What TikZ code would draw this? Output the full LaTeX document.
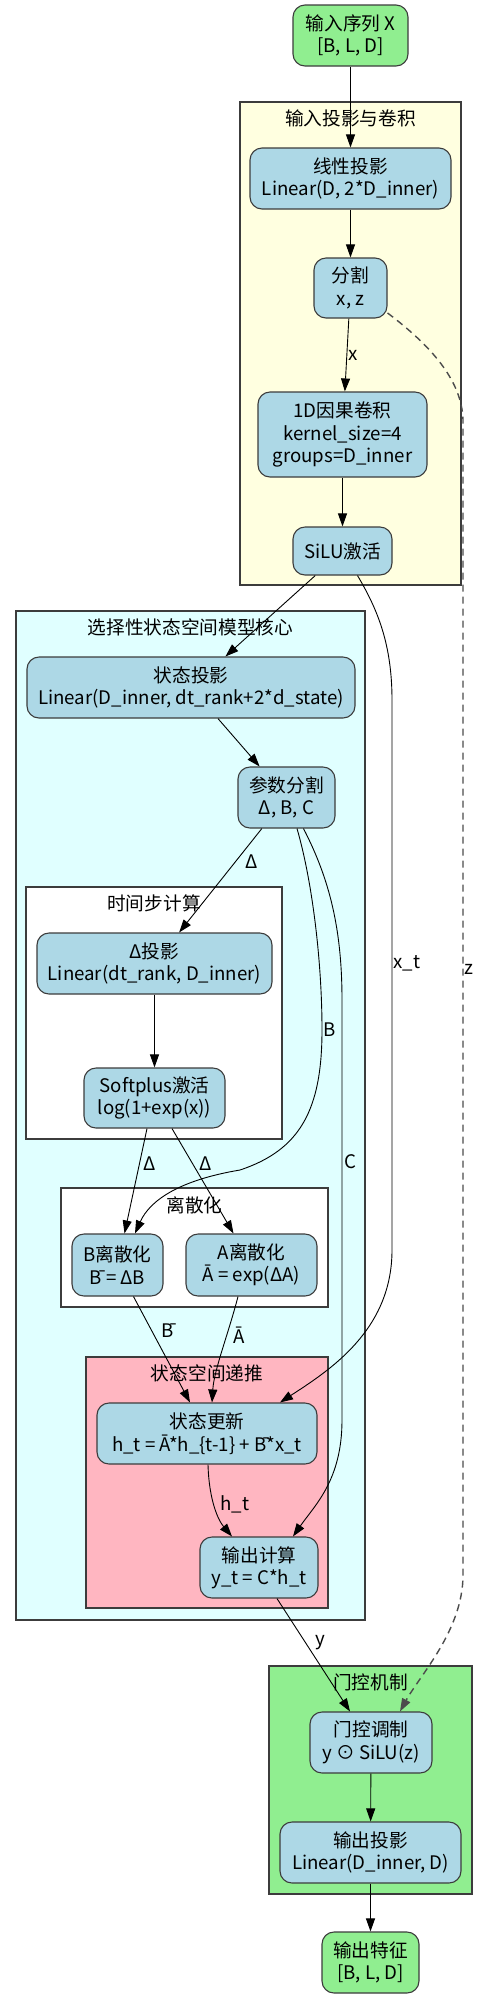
\documentclass[tikz,border=0pt]{standalone}
\usepackage{fontspec}
\setmainfont{Noto Sans CJK SC}
\usetikzlibrary{arrows.meta}
\definecolor{boxblue}{HTML}{ADD8E6}
\definecolor{iogreen}{HTML}{90EE90}
\definecolor{convyellow}{HTML}{FFFFE0}
\definecolor{ssmcyan}{HTML}{E0FFFF}
\definecolor{scanpink}{HTML}{FFB6C1}
\definecolor{rim}{HTML}{3C3C3C}

\begin{document}
\begin{tikzpicture}[x=1pt, y=-1pt,
  every node/.style={font=\fontsize{18.67}{22.4}\selectfont},
  box/.style={draw=rim, line width=1.1pt, fill=boxblue, rounded corners=12pt, align=center, inner sep=0pt},
  io/.style={box, fill=iogreen},
  cluster/.style={draw=rim, line width=1.4pt},
  edge/.style={-{Triangle[length=13pt,width=9pt]}, line width=0.9pt},
  zpath/.style={edge, draw=black!70, line width=1.4pt, dash pattern=on 7pt off 5pt},
  lbl/.style={anchor=west, inner sep=0pt}]
\useasboundingbox (0,0) rectangle (488,1998);

\draw [cluster, fill=convyellow] (240,102) rectangle (461,585);
\draw [cluster, fill=ssmcyan] (16,611) rectangle (365,1620);
\draw [cluster, fill=white] (26,887) rectangle (282,1139);
\draw [cluster, fill=white] (61,1188) rectangle (328,1307);
\draw [cluster, fill=scanpink] (86,1357) rectangle (328,1608);
\draw [cluster, fill=iogreen] (269,1666) rectangle (472,1894);
\node (convtitle) at (350.5,118) {输入投影与卷积};
\node (ssmtitle) at (190.5,627) {选择性状态空间模型核心};
\node (dttitle) at (154,903) {时间步计算};
\node (disctitle) at (194.5,1205) {离散化};
\node (scantitle) at (207,1373) {状态空间递推};
\node (gatetitle) at (370.5,1682) {门控机制};

\node [io, minimum width=115, minimum height=61] (inp) at (350.5,35.5) {输入序列 X\\{}[B, L, D]};
\node [box, minimum width=201, minimum height=61] (lin) at (350.5,178.5) {线性投影\\Linear(D, 2*D\_inner)};
\node [box, minimum width=73, minimum height=60] (split) at (350.5,288) {分割\\x, z};
\node [box, minimum width=169, minimum height=85] (conv) at (342.5,434.5) {1D因果卷积\\kernel\_size=4\\groups=D\_inner};
\node [box, minimum width=99, minimum height=48] (silu) at (342.5,551) {SiLU激活};
\node [box, minimum width=328, minimum height=61] (sproj) at (191,687.5) {状态投影\\Linear(D\_inner, dt\_rank+2*d\_state)};
\node [box, minimum width=97, minimum height=61] (psplit) at (286.5,797.5) {参数分割\\Δ, B, C};
\node [box, minimum width=235, minimum height=61] (dproj) at (154.5,963.5) {Δ投影\\Linear(dt\_rank, D\_inner)};
\node [box, minimum width=141, minimum height=60] (soft) at (154.5,1098) {Softplus激活\\log(1+exp(x))};
\node [box, minimum width=91, minimum height=62] (bdis) at (117.5,1265) {B离散化\\B̄ = ΔB};
\node [box, minimum width=131, minimum height=62] (adis) at (251.5,1265) {A离散化\\Ā = exp(ΔA)};
\node [box, minimum width=220, minimum height=61] (upd) at (207,1433.5) {状态更新\\h\_t = Ā*h\_\{t-1\} + B̄*x\_t};
\node [box, minimum width=118, minimum height=61] (outc) at (259,1567.5) {输出计算\\y\_t = C*h\_t};
\node [box, minimum width=122, minimum height=61] (gate) at (371,1742.5) {门控调制\\y ⊙ SiLU(z)};
\node [box, minimum width=181, minimum height=61] (oproj) at (370.5,1852.5) {输出投影\\Linear(D\_inner, D)};
\node [io, minimum width=97, minimum height=61] (outp) at (370.5,1962.5) {输出特征\\{}[B, L, D]};

\draw [edge] (inp) -- (lin);
\draw [edge] (lin) -- (split);
\draw [edge] (split) -- node[lbl, pos=0.5, xshift=1pt] {x} (conv);
\draw [edge] (conv) -- (silu);
\draw [zpath] (split.-34) .. controls (430,345) and (462,380) .. (463,420)
  -- node[lbl, pos=0.476, xshift=1pt] {z} (463,1575)
  .. controls (463,1630) and (420,1675) .. ([xshift=29pt]gate.north);
\draw [edge] (silu) -- (sproj);
\draw [edge] ([xshift=15pt]silu.south) .. controls (378,610) and (392,645) .. (392,700)
  -- node[lbl, pos=0.478, xshift=1pt] {x\_t} (392,1250)
  .. controls (392,1330) and (330,1370) .. ([xshift=73pt]upd.north);
\draw [edge] (sproj) -- (psplit);
\draw [edge] (psplit) -- node[lbl, pos=0.32, xshift=10pt] {Δ} (dproj);
\draw [edge] ([xshift=10.5pt]psplit.south) .. controls (312,880) and (322,960) .. (322,1030)
  node[lbl, xshift=1pt] {B}
  .. controls (322,1110) and (300,1150) .. (240,1170)
  .. controls (180,1180) and (150,1200) .. ([xshift=17.5pt]bdis.north);
\draw [edge] ([xshift=17pt]psplit.south) .. controls (330,880) and (342,930) .. (342,1000)
  -- node[lbl, pos=0.386, xshift=2pt] {C} (342,1420)
  .. controls (342,1480) and (315,1505) .. ([xshift=34pt]outc.north);
\draw [edge] (dproj) -- (soft);
\draw [edge] ([xshift=-7.5pt]soft.south) -- node[lbl, pos=0.33, xshift=3pt] {Δ} ([xshift=7pt]bdis.north);
\draw [edge] ([xshift=17.5pt]soft.south) -- node[lbl, pos=0.33, xshift=7pt] {Δ} ([xshift=-18pt]adis.north);
\draw [edge] ([xshift=16pt]bdis.south) -- node[lbl, pos=0.32, xshift=9pt] {B̄} ([xshift=-17pt]upd.north);
\draw [edge] ([xshift=-13.5pt]adis.south) .. controls (228,1335) and (214,1370) .. node[lbl, pos=0.35, xshift=6pt] {Ā} ([xshift=5pt]upd.north);
\draw [edge] ([xshift=1pt]upd.south) .. controls (209,1500) and (218,1520) .. node[lbl, pos=0.45, xshift=6pt] {h\_t} ([xshift=-27pt]outc.north);
\draw [edge] ([xshift=18pt]outc.south) -- node[lbl, pos=0.386, xshift=10pt] {y} ([xshift=-21pt]gate.north);
\draw [edge] (gate) -- (oproj);
\draw [edge] (oproj) -- (outp);
\end{tikzpicture}
\end{document}
